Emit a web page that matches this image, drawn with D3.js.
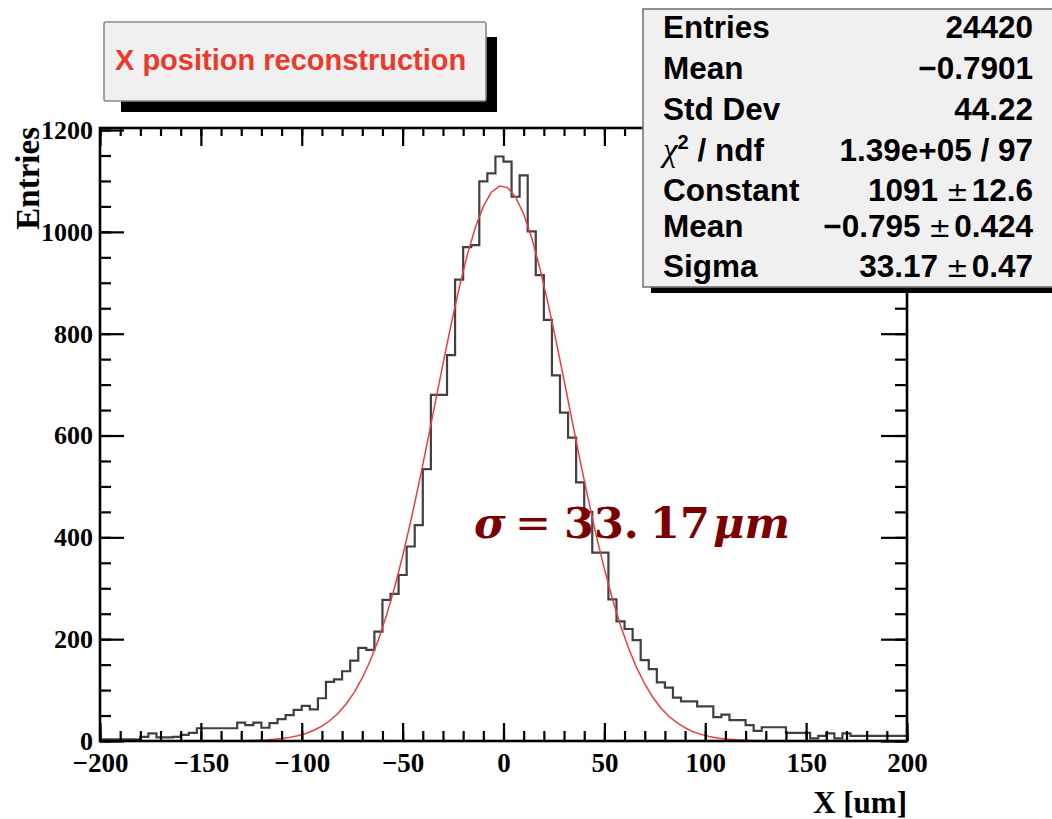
<!DOCTYPE html>
<html>
<head>
<meta charset="utf-8">
<script src="https://cdn.jsdelivr.net/npm/d3@7"></script>
<style>
  body { margin: 0; background: #fff; }
  svg { display: block; }
</style>
</head>
<body>
<div id="chart-area"></div>
<script>
// histogram contents, 100 bins from -200 to 200 um
var counts = [3, 3, 3, 3, 3, 8, 15, 7, 7, 8,
    12, 16, 25, 25, 25, 25, 25, 36, 31, 36,
    26, 35, 43, 51, 61, 69, 62, 84, 116, 121,
    137, 158, 183, 179, 215, 277, 289, 326, 382, 424,
    534, 680, 680, 758, 906, 970, 974, 1099, 1115, 1148,
    1138, 1069, 1111, 1001, 915, 827, 718, 645, 596, 508,
    450, 370, 370, 278, 235, 220, 198, 159, 141, 115,
    105, 85, 78, 78, 68, 68, 47, 52, 41, 41,
    31, 20, 27, 27, 27, 16, 16, 16, 5, 10,
    15, 5, 15, 10, 10, 10, 10, 10, 10, 10];

// gaussian fit curve
var fitX = [-126, -122, -118, -114, -110, -106, -102, -98, -94, -90, -86, -82, -78, -74, -70, -66,
    -62, -58, -54, -50, -46, -42, -38, -34, -30, -26, -22, -18, -14, -10, -6, -2,
    2, 6, 10, 14, 18, 22, 26, 30, 34, 38, 42, 46, 50, 54, 58, 62,
    66, 70, 74, 78, 82, 86, 90, 94, 98, 102, 106, 110, 114, 118, 122, 126];
var fitY = [0.9, 1.4, 2.1, 3.2, 4.8, 7.1, 10.4, 14.9, 21.1, 29.3, 40.2, 54.5, 72.6, 95.6, 123.8, 158.1,
    198.9, 246.7, 301.5, 363.2, 431.2, 504.5, 581.7, 661.1, 740.6, 817.5, 889.5, 953.8, 1008, 1050, 1078, 1090,
    1087, 1068, 1035, 988, 929, 861, 787, 709, 629, 550, 475, 403, 338, 279, 227, 182,
    144, 112, 86, 65, 48, 36, 26, 18, 13, 9, 6, 4, 3, 2, 1.2, 0.7];

var xTicks = [-200, -150, -100, -50, 0, 50, 100, 150, 200];
var yTicks = [0, 200, 400, 600, 800, 1000, 1200];

var statLabels = ["Entries", "Mean", "Std Dev", "chi2", "Constant", "Mean", "Sigma"];
var statValues = [["24420"], ["\u22120.7901"], ["44.22"], ["1.39e+05 / 97"],
    ["1091", "12.6"], ["\u22120.795", "0.424"], ["33.17", "0.47"]];

var titleText = "X position reconstruction";
var xTitle = "X [um]";
var yTitle = "Entries";

var width = 1052, height = 819;
var frame = { left: 100, right: 907, top: 128, bottom: 741 };

var svg = d3.select('#chart-area')
    .append('svg')
        .attr('width', width)
        .attr('height', height);

var x = d3.scaleLinear().domain([-200, 200]).range([frame.left, frame.right]);
var y = d3.scaleLinear().domain([0, 1204]).range([frame.bottom, frame.top]);

var binWidth = (x.domain()[1] - x.domain()[0]) / counts.length;

// step outline of the histogram
var stepPts = [];
counts.forEach((c, i) => {
    var lo = x.domain()[0] + i * binWidth;
    stepPts.push([lo, c]);
    stepPts.push([lo + binWidth, c]);
});

var line = d3.line()
    .x(d => x(d[0]))
    .y(d => y(d[1]));

svg.append('path')
    .datum(stepPts)
    .attr('d', line)
    .attr('fill', 'none')
    .attr('stroke', '#404040')
    .attr('stroke-width', 2.2);

svg.append('path')
    .datum(fitX.map((v, i) => [v, fitY[i]]))
    .attr('d', line)
    .attr('fill', 'none')
    .attr('stroke', '#f03c3c')
    .attr('stroke-width', 1.5);

// axes, ROOT style: ticks inside on all four sides
function clean(g) {
    g.select('.domain').remove();
    g.selectAll('line').attr('stroke', '#000').attr('stroke-width', 2.2);
}

var serif = "'Liberation Serif', 'Times New Roman', serif";
var sans = "'Liberation Sans', Arial, Helvetica, sans-serif";

svg.append('g')
    .attr('transform', 'translate(0,' + frame.bottom + ')')
    .call(d3.axisBottom(x).tickValues(d3.range(-200, 201, 10)).tickSize(-10).tickFormat(''))
    .call(clean);

var xAxis = svg.append('g')
    .attr('transform', 'translate(0,' + frame.bottom + ')')
    .call(d3.axisBottom(x).tickValues(xTicks).tickSize(-18).tickPadding(0))
    .call(clean);
xAxis.selectAll('text')
    .attr('y', 31).attr('dy', 0)
    .attr('fill', '#000')
    .style('font-family', serif).style('font-weight', 'bold').style('font-size', '27px');

svg.append('g')
    .attr('transform', 'translate(0,' + frame.top + ')')
    .call(d3.axisTop(x).tickValues(d3.range(-200, 201, 10)).tickSize(-8).tickFormat(''))
    .call(clean);
svg.append('g')
    .attr('transform', 'translate(0,' + frame.top + ')')
    .call(d3.axisTop(x).tickValues(xTicks).tickSize(-18).tickFormat(''))
    .call(clean);

svg.append('g')
    .attr('transform', 'translate(' + frame.left + ',0)')
    .call(d3.axisLeft(y).tickValues(d3.range(0, 1201, 50)).tickSize(-11).tickFormat(''))
    .call(clean);
var yAxis = svg.append('g')
    .attr('transform', 'translate(' + frame.left + ',0)')
    .call(d3.axisLeft(y).tickValues(yTicks).tickSize(-24).tickPadding(7).tickFormat(d3.format('d')))
    .call(clean);
yAxis.selectAll('text')
    .attr('fill', '#000')
    .style('font-family', serif).style('font-weight', 'bold').style('font-size', '26px');

svg.append('g')
    .attr('transform', 'translate(' + frame.right + ',0)')
    .call(d3.axisRight(y).tickValues(d3.range(0, 1201, 50)).tickSize(-12).tickFormat(''))
    .call(clean);
svg.append('g')
    .attr('transform', 'translate(' + frame.right + ',0)')
    .call(d3.axisRight(y).tickValues(yTicks).tickSize(-26).tickFormat(''))
    .call(clean);

svg.append('rect')
    .attr('x', frame.left).attr('y', frame.top)
    .attr('width', frame.right - frame.left)
    .attr('height', frame.bottom - frame.top)
    .attr('fill', 'none')
    .attr('stroke', '#000')
    .attr('stroke-width', 2.6);

// axis titles
svg.append('text')
    .attr('x', frame.right).attr('y', 813)
    .attr('text-anchor', 'end')
    .style('font-family', serif).style('font-weight', 'bold').style('font-size', '31px')
    .text(xTitle);

svg.append('text')
    .attr('transform', 'translate(39,' + (frame.top - 1) + ') rotate(-90)')
    .attr('text-anchor', 'end')
    .style('font-family', serif).style('font-weight', 'bold').style('font-size', '33px')
    .text(yTitle);

// sigma annotation
var sig = svg.append('text')
    .attr('y', 538)
    .attr('fill', '#7d0000')
    .style('font-family', "'DejaVu Serif', serif").style('font-weight', 'bold').style('font-size', '43px');
sig.append('tspan').attr('x', 474).style('font-style', 'italic').text('\u03c3');
sig.append('tspan').attr('x', 515).style('font-weight', 'normal').text('=');
sig.append('tspan').attr('x', 564).text('33.');
sig.append('tspan').attr('x', 650).text('17');
sig.append('tspan').attr('x', 713).style('font-style', 'italic').text('\u03bcm');

// title box
svg.append('rect')
    .attr('x', 121).attr('y', 37).attr('width', 376).attr('height', 75)
    .attr('fill', '#000');
svg.append('rect')
    .attr('x', 104).attr('y', 22).attr('width', 382).attr('height', 79)
    .attr('rx', 2)
    .attr('fill', '#f0f0f0')
    .attr('stroke', '#8a8a8a')
    .attr('stroke-width', 1.6);
svg.append('text')
    .attr('x', 115).attr('y', 70)
    .attr('fill', '#ea3a2c')
    .style('font-family', sans).style('font-weight', 'bold').style('font-size', '29px')
    .text(titleText);

// stats box
var stats = svg.append('g');
stats.append('rect')
    .attr('x', 651).attr('y', 15).attr('width', 420).attr('height', 278)
    .attr('fill', '#000');
stats.append('rect')
    .attr('x', 643).attr('y', 9).attr('width', 420).attr('height', 278)
    .attr('fill', '#f0f0f0')
    .attr('stroke', '#777')
    .attr('stroke-width', 1.6);

var rowY = [38, 79, 120, 161, 201, 237, 277];

statLabels.forEach((lab, i) => {
    var t = stats.append('text')
        .attr('x', 663).attr('y', rowY[i])
        .style('font-family', sans).style('font-weight', 'bold').style('font-size', '31.5px');
    if (lab === 'chi2') {
        t.append('tspan').style('font-family', serif).style('font-style', 'italic')
            .style('font-weight', 'normal').style('font-size', '33px').text('\u03c7');
        t.append('tspan').attr('dy', -12).style('font-size', '20px').text('2');
        t.append('tspan').attr('dy', 12).text(' / ndf');
    } else {
        t.text(lab);
    }

    var v = stats.append('text')
        .attr('x', 1033).attr('y', rowY[i])
        .attr('text-anchor', 'end')
        .style('font-family', sans).style('font-weight', 'bold').style('font-size', '31.5px');
    var parts = statValues[i];
    v.append('tspan').text(parts[0]);
    if (parts.length > 1) {
        v.append('tspan').attr('dx', 8).style('font-weight', 'normal').style('font-family', "'DejaVu Sans', sans-serif")
            .style('font-size', '27px').text('\u00b1');
        v.append('tspan').attr('dx', 3).text(parts[1]);
    }
});
</script>
</body>
</html>
